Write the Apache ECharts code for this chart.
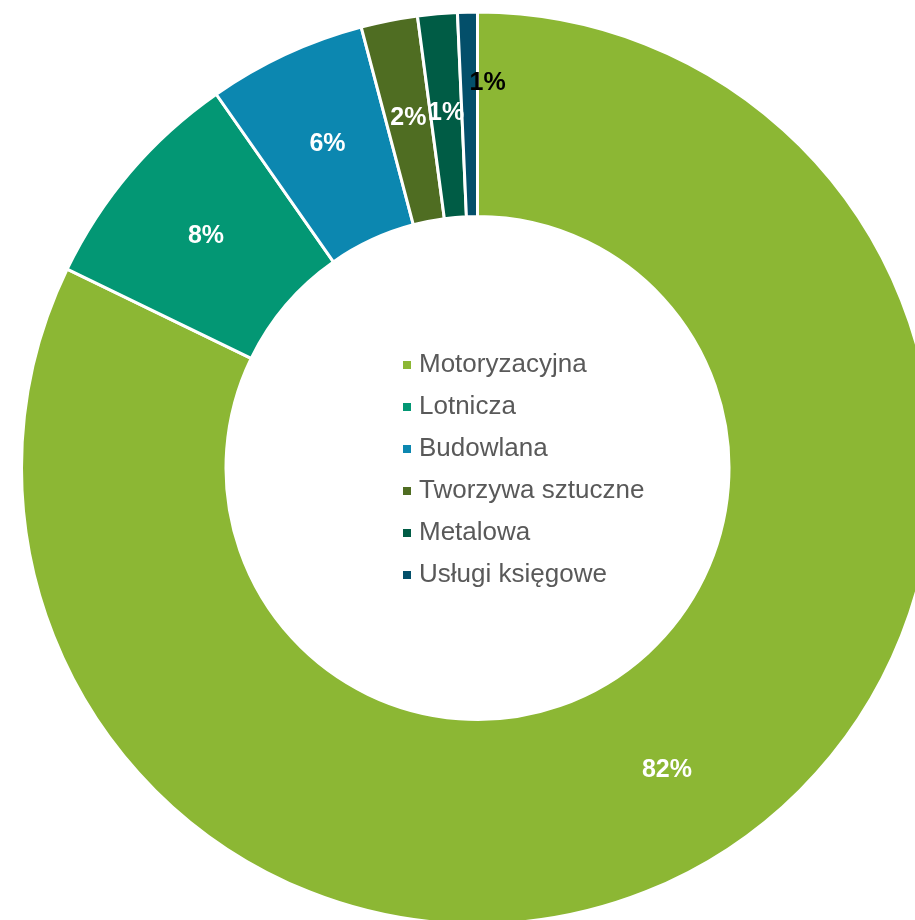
<!DOCTYPE html>
<html>
<head>
<meta charset="utf-8">
<script src="https://cdn.jsdelivr.net/npm/echarts@6/dist/echarts.min.js"></script>
<style>
  html, body { margin: 0; padding: 0; background: #fff; }
  #chart { width: 915px; height: 920px; }
</style>
</head>
<body>
<div id="chart"></div>
<script>
// dane
var categories = ['Motoryzacyjna', 'Lotnicza', 'Budowlana', 'Tworzywa sztuczne', 'Metalowa', 'Usługi księgowe'];
var values = [82.1, 8.1, 5.6, 2.0, 1.4, 0.7];
var colors = ['#8CB734', '#039774', '#0C87B0', '#4F6D22', '#005C45', '#034F6A'];

var chart = echarts.init(document.getElementById('chart'), null, { renderer: 'canvas' });

var pieData = categories.map(function (name, i) {
  var item = { name: name, value: values[i], itemStyle: { color: colors[i] } };
  // ostatni wycinek - czarna etykieta nad pierścieniem
  if (i === categories.length - 1) {
    item.label = { color: '#000', offset: [18, -28] };
  }
  return item;
});

var option = {
  animation: false,
  backgroundColor: '#fff',
  legend: {
    orient: 'vertical',
    left: 396,
    top: 347,
    itemWidth: 10,
    itemHeight: 10,
    itemGap: 16,
    icon: 'rect',
    data: categories,
    textStyle: {
      fontFamily: 'Liberation Sans, Arial, sans-serif',
      fontSize: 26,
      lineHeight: 26,
      color: '#595959',
      padding: [0, 0, 0, 2]
    }
  },
  series: [{
    type: 'pie',
    center: [477.5, 468],
    radius: [251.5, 456],
    startAngle: 90,
    clockwise: true,
    avoidLabelOverlap: false,
    percentPrecision: 0,
    itemStyle: {
      borderColor: '#fff',
      borderWidth: 3
    },
    label: {
      show: true,
      position: 'inside',
      formatter: '{d}%',
      fontFamily: 'Liberation Sans, Arial, sans-serif',
      fontSize: 25,
      fontWeight: 'bold',
      color: '#fff'
    },
    labelLine: { show: false },
    emphasis: { disabled: true },
    data: pieData
  }]
};

chart.setOption(option);
</script>
</body>
</html>
